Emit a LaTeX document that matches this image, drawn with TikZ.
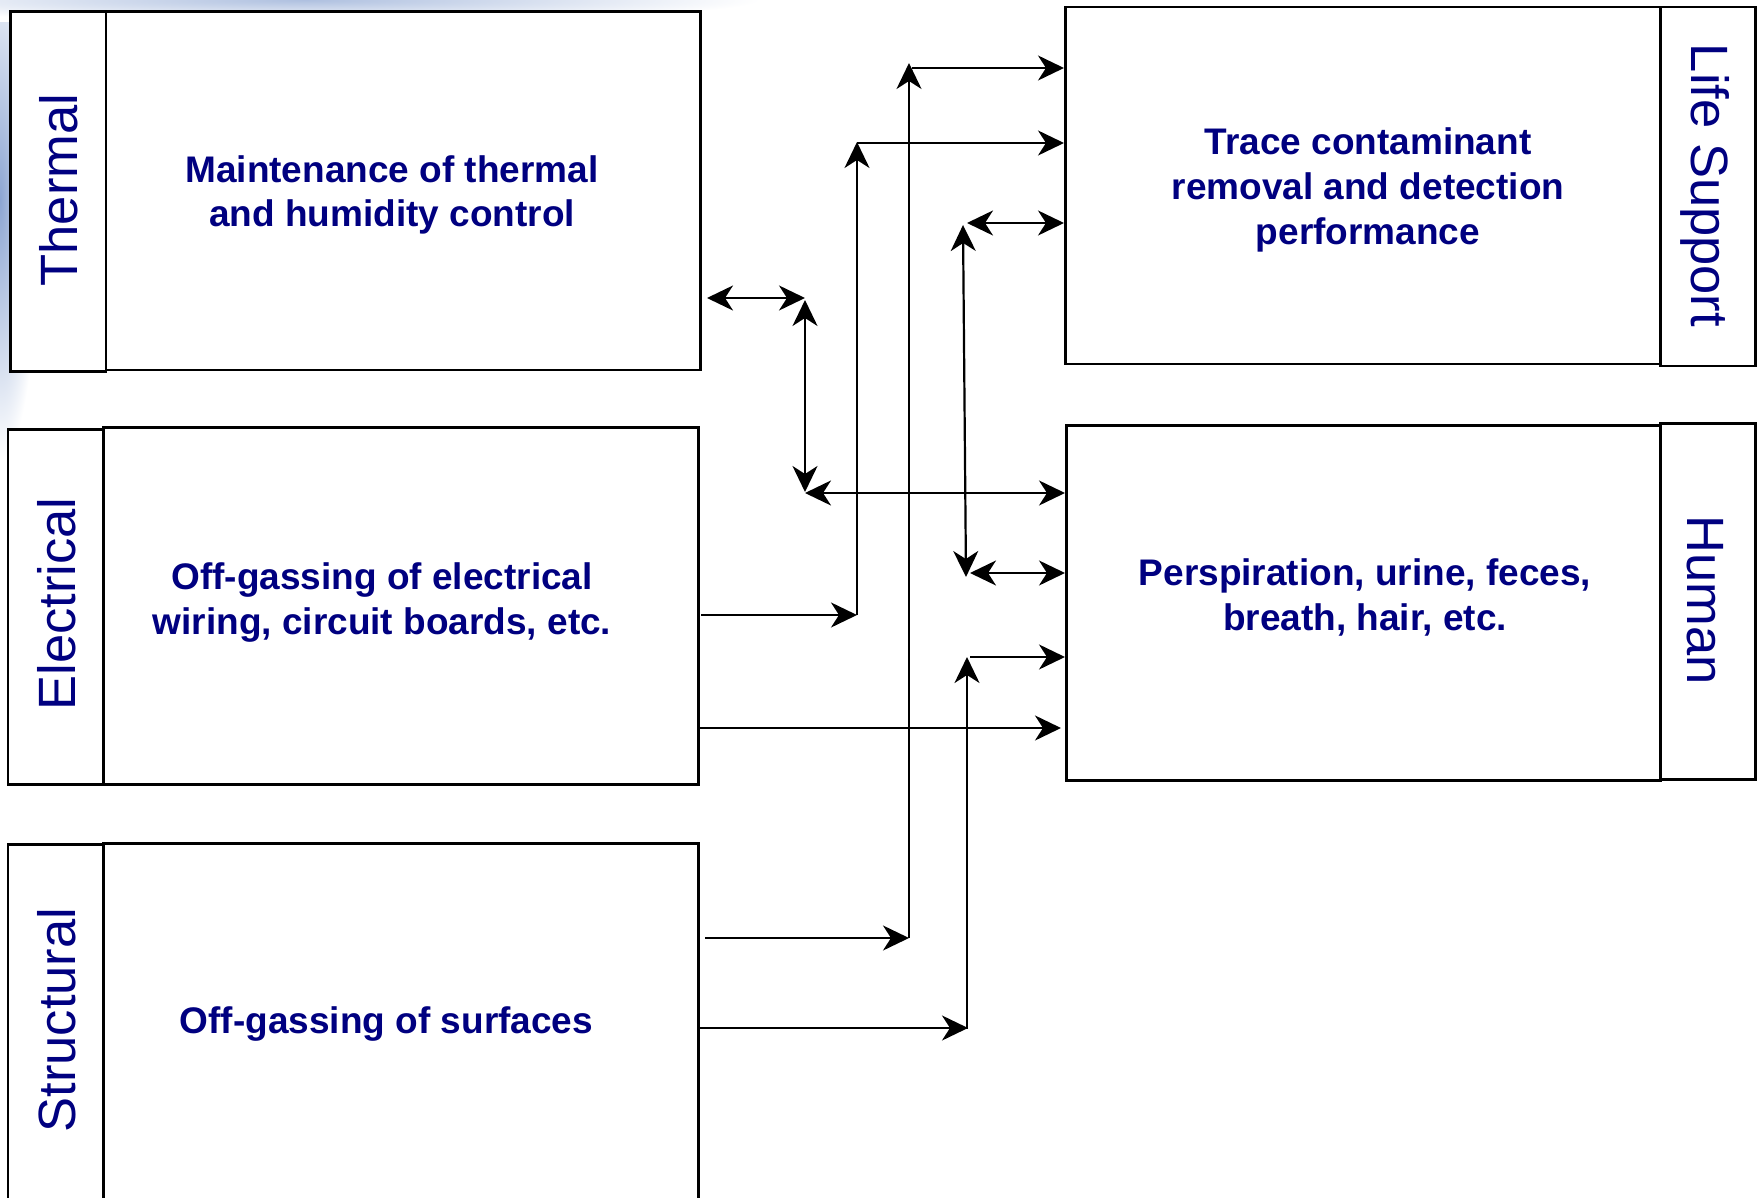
\documentclass[tikz,border=0pt]{standalone}
\usepackage{fontspec}
\setmainfont{Liberation Sans}
\usetikzlibrary{arrows.meta}
\definecolor{navytext}{RGB}{0,0,128}
\definecolor{skyblue}{RGB}{140,165,210}
\begin{document}
\begin{tikzpicture}[x=1pt,y=-1pt,
  box/.style={draw=black,line width=2.6pt,fill=white,inner sep=0pt,anchor=north west},
  maintext/.style={text=navytext,font=\fontsize{37}{44.8}\selectfont\bfseries,align=center,inner sep=0pt},
  sidetext/.style={text=navytext,font=\fontsize{52.5}{60}\selectfont,inner sep=0pt},
  tip/.tip={Stealth[length=26pt,width=25pt,inset=8pt]},
  conn/.style={line width=2.2pt,-tip},
  dconn/.style={line width=2.2pt,tip-tip}]
\useasboundingbox (0,0) rectangle (1762,1198);
\clip (0,0) rectangle (1762,1198);
\fill[white] (0,0) rectangle (1762,1198);
\shade[inner color=skyblue,outer color=white] (-40,-60) rectangle (40,460);
\shade[inner color=skyblue!70!white,outer color=white] (-150,-22) rectangle (760,22);

% left column
\node[box,minimum width=594.5pt,minimum height=358.5pt] (thermal) at (104.5,10) {};
\node[box,minimum width=95.5pt,minimum height=360pt] (thermalL) at (9,10) {};
\node[box,minimum width=595pt,minimum height=357pt] (elec) at (102,426) {};
\node[box,minimum width=95.3pt,minimum height=355pt] (elecL) at (6.7,428) {};
\node[box,minimum width=595pt,minimum height=380pt] (struct) at (102,842) {};
\node[box,minimum width=95.3pt,minimum height=380pt] (structL) at (6.7,843) {};

% right column
\node[box,minimum width=595pt,minimum height=357pt] (trace) at (1064,5.6) {};
\node[box,minimum width=95pt,minimum height=359pt] (traceL) at (1659,5.6) {};
\node[box,minimum width=594pt,minimum height=355pt] (human) at (1065,424) {};
\node[box,minimum width=95pt,minimum height=356pt] (humanL) at (1659,422) {};

% texts
\node[maintext] (thermalT) at (392,195) {Maintenance of thermal\\and humidity control};
\node[maintext] (elecT) at (382,602.5) {Off-gassing of electrical\\wiring, circuit boards, etc.};
\node[maintext] (structT) at (386.5,1024.5) {Off-gassing of surfaces};
\node[maintext] (traceT) at (1368,190) {Trace contaminant\\removal and detection\\performance};
\node[maintext] (humanT) at (1365,597.5) {Perspiration, urine, feces,\\breath, hair, etc.};

\node[sidetext,rotate=90] (thermalS) at (59,190) {Thermal};
\node[sidetext,rotate=90] (elecS) at (57,604) {Electrical};
\node[sidetext,rotate=90] (structS) at (57,1020) {Structural};
\node[sidetext,rotate=-90] (traceS) at (1705,185.4) {Life Support};
\node[sidetext,rotate=-90] (humanS) at (1705,600) {Human};

% junction coordinates
\coordinate (a0) at (705,938);
\coordinate (a1) at (909,938);
\coordinate (a2) at (909,63);
\coordinate (a3) at (912,68);
\coordinate (b0) at (701,615);
\coordinate (b1) at (857,615);
\coordinate (b2) at (857,142);
\coordinate (b3) at (857,143);
\coordinate (c0) at (707,298);
\coordinate (c1) at (805,298);
\coordinate (c2) at (805,300);
\coordinate (c3) at (805,492);
\coordinate (c4) at (805,493);
\coordinate (d0) at (967,223);
\coordinate (d1) at (963,225);
\coordinate (d2) at (966,577);
\coordinate (d3) at (970,573);
\coordinate (e0) at (700,1028);
\coordinate (e1) at (968,1028);
\coordinate (e2) at (967,1029);
\coordinate (e3) at (967,657);
\coordinate (e4) at (970,657);
\coordinate (f0) at (697,728);

% connectors
\draw[conn] (a0) -- (a1);
\draw[conn] (a1) -- (a2);
\draw[conn] (a3) -- (trace.west |- a3);
\draw[conn] (b0) -- (b1);
\draw[conn] (b1) -- (b2);
\draw[conn] (b3) -- (trace.west |- b3);
\draw[dconn] (c0) -- (c1);
\draw[dconn] (c2) -- (c3);
\draw[dconn] (c4) -- (human.west |- c4);
\draw[dconn] (d0) -- (trace.west |- d0);
\draw[dconn] (d1) -- (d2);
\draw[dconn] (d3) -- (human.west |- d3);
\draw[conn] (e0) -- (e1);
\draw[conn] (e2) -- (e3);
\draw[conn] (e4) -- (human.west |- e4);
\draw[conn] (f0) -- ([xshift=-4pt]human.west |- f0);
\end{tikzpicture}
\end{document}
